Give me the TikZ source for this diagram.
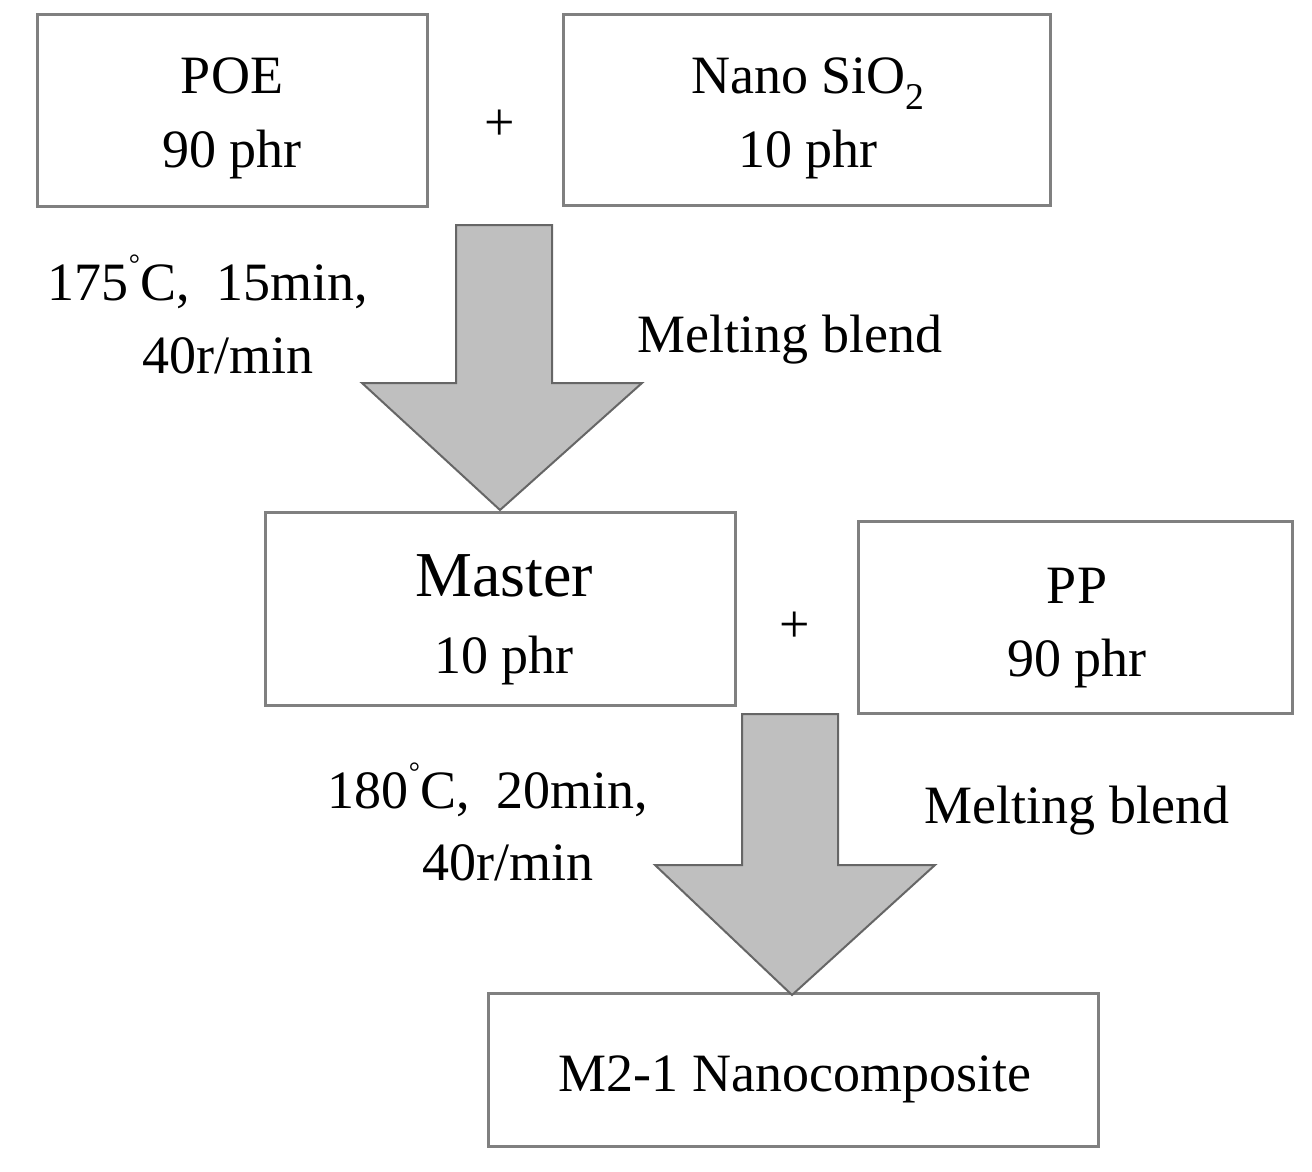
\documentclass[tikz,border=0pt]{standalone}
\usepackage{fontspec}
\setmainfont{Liberation Serif}
\begin{document}
\begin{tikzpicture}[x=1pt,y=-1pt,
  box/.style={draw=black!50,line width=3pt},
  arr/.style={draw=black!60,fill=black!25,line width=2pt,line join=miter},
  txt/.style={font=\fontsize{54}{60}\selectfont,inner sep=0pt,anchor=base},
  big/.style={font=\fontsize{64}{70}\selectfont,inner sep=0pt,anchor=base}]
\useasboundingbox (0,0) rectangle (1312,1171);
\draw[box] (37,14) rectangle (427,206);
\draw[box] (563,14) rectangle (1050,205);
\draw[box] (265,512) rectangle (735,705);
\draw[box] (858,521) rectangle (1292,713);
\draw[box] (488,993) rectangle (1098,1146);
\draw[arr] (456,225) -- (552,225) -- (552,383) -- (642,383) -- (500,510) -- (362,383) -- (456,383) -- cycle;
\draw[arr] (742,714) -- (838,714) -- (838,865) -- (935,865) -- (792,995) -- (655,865) -- (742,865) -- cycle;
\node[txt] (poe) at (232,93) {POE};
\node[txt] (poe2) at (232,167) {90 phr};
\node[txt] (sio) at (808,93) {Nano SiO\textsubscript{2}};
\node[txt] (sio2) at (808,167) {10 phr};
\node[txt] (p1) at (500,140) {+};
\node[txt] (c1) at (208,300) {175\raisebox{0.5em}{\fontsize{28}{30}\selectfont °}C,\ \ 15min,};
\node[txt] (c1b) at (228,373) {40r/min};
\node[txt] (m1) at (790,352) {Melting blend};
\node[big] (ma) at (504,596) {Master};
\node[txt] (ma2) at (504,673) {10 phr};
\node[txt] (p2) at (795,642) {+};
\node[txt] (pp) at (1077,603) {PP};
\node[txt] (pp2) at (1077,676) {90 phr};
\node[txt] (c2) at (488,808) {180\raisebox{0.5em}{\fontsize{28}{30}\selectfont °}C,\ \ 20min,};
\node[txt] (c2b) at (508,880) {40r/min};
\node[txt] (m2) at (1077,823) {Melting blend};
\node[txt] (nc) at (795,1091) {M2-1 Nanocomposite};
\end{tikzpicture}
\end{document}
